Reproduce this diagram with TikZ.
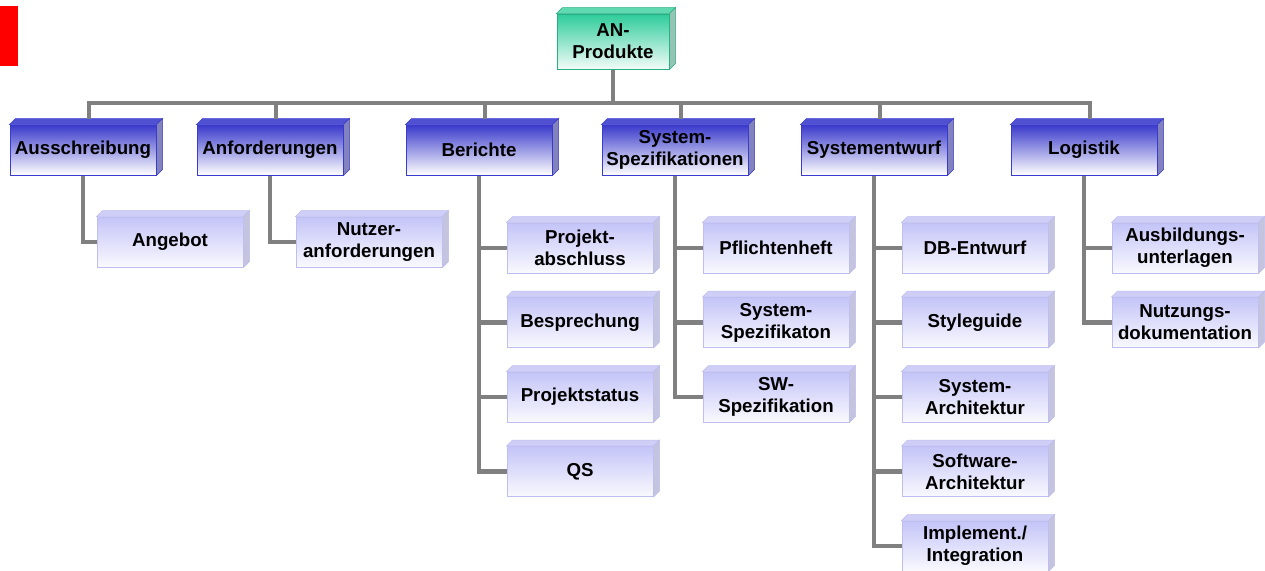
\documentclass[tikz,border=0pt]{standalone}
\usepackage{fontspec}
\setmainfont{Liberation Sans}
\usepackage{tikz}
\usetikzlibrary{positioning}
\usepackage{xcolor}

\definecolor{linegray}{RGB}{128,128,128}
\definecolor{mainblue}{RGB}{58,58,204}
\definecolor{maintopface}{RGB}{80,80,210}
\definecolor{mainsideface}{RGB}{130,130,190}
\definecolor{subblue}{RGB}{196,196,248}
\definecolor{subedge}{RGB}{190,190,240}
\definecolor{subtopface}{RGB}{206,206,246}
\definecolor{subsideface}{RGB}{196,196,222}
\definecolor{rootgreen}{RGB}{46,204,154}
\definecolor{rootedge}{RGB}{40,176,132}
\definecolor{roottopface}{RGB}{96,216,176}
\definecolor{rootsideface}{RGB}{150,196,180}

\begin{document}
\begin{tikzpicture}[x=1pt, y=-1pt,
    box/.style={rectangle, line width=1pt, minimum width=146pt, minimum height=50pt, inner sep=0pt, align=center, font=\bfseries\fontsize{18.7}{22}\selectfont},
    depth/.style n args={3}{append after command={\pgfextra{
        \filldraw[fill=#1, draw=#3, line width=0.5pt] (\tikzlastnode.north west) -- ++(6,-6) -- ([shift={(6,-6)}]\tikzlastnode.north east) -- (\tikzlastnode.north east) -- cycle;
        \filldraw[fill=#2, draw=#3, line width=0.5pt] (\tikzlastnode.north east) -- ++(6,-6) -- ([shift={(6,-6)}]\tikzlastnode.south east) -- (\tikzlastnode.south east) -- cycle;
    }}},
    root/.style={box, minimum width=112pt, minimum height=55pt, draw=rootedge, top color=rootgreen, bottom color=rootgreen!6, depth={roottopface}{rootsideface}{rootedge}},
    main/.style={box, draw=mainblue, top color=mainblue, bottom color=white, depth={maintopface}{mainsideface}{mainblue}},
    sub/.style={box, draw=subedge, top color=subblue, bottom color=subblue!10, depth={subtopface}{subsideface}{subedge}},
    link/.style={draw=linegray, line width=4.5pt}
]
\useasboundingbox (0,0) rectangle (1265,570);

% 红色标记
\fill[red] (0,6) rectangle (18,66);

% 根节点
\node[root] (an) at (613,41.5) {AN-\\Produkte};

% 第一层
\node[main] (aus) at (83,150) {Ausschreibung};
\node[main] (anf) at (270,150) {Anforderungen};
\node[main] (ber) at (479,150) {Berichte};
\node[main] (spez) at (675,150) {System-\\Spezifikationen};
\node[main] (entw) at (874,150) {Systementwurf};
\node[main] (log) at (1084,150) {Logistik};

% 第二层
\node[sub] (angebot) at (170,242) {Angebot};
\node[sub] (nutzer) at (369,242) {Nutzer-\\anforderungen};
\node[sub] (abschluss) at (580,248) {Projekt-\\abschluss};
\node[sub] (bespr) at (580,322.5) {Besprechung};
\node[sub] (status) at (580,397) {Projektstatus};
\node[sub] (qs) at (580,471.5) {QS};
\node[sub] (pflicht) at (776,248) {Pflichtenheft};
\node[sub] (sysspez) at (776,322.5) {System-\\Spezifikaton};
\node[sub] (swspez) at (776,397) {SW-\\Spezifikation};
\node[sub] (db) at (975,248) {DB-Entwurf};
\node[sub] (style) at (975,322.5) {Styleguide};
\node[sub] (sysarch) at (975,397) {System-\\Architektur};
\node[sub] (swarch) at (975,471.5) {Software-\\Architektur};
\node[sub] (impl) at (975,546) {Implement./\\Integration};
\node[sub] (ausb) at (1185,248) {Ausbildungs-\\unterlagen};
\node[sub] (nutzung) at (1185,322.5) {Nutzungs-\\dokumentation};

% 连线：根节点到第一层
\coordinate (bar) at (613,103);
\draw[link] (an.south) -- (bar);
\draw[link] (bar) -| ([shift={(6,-6)}]aus.north);
\draw[link] (bar) -| ([shift={(6,-6)}]anf.north);
\draw[link] (bar) -| ([shift={(6,-6)}]ber.north);
\draw[link] (bar) -| ([shift={(6,-6)}]spez.north);
\draw[link] (bar) -| ([shift={(6,-6)}]entw.north);
\draw[link] (bar) -| ([shift={(6,-6)}]log.north);

% 连线：第一层到第二层
\draw[link] (aus.south) |- (angebot.west);
\draw[link] (anf.south) |- (nutzer.west);
\draw[link] (ber.south) |- (abschluss.west);
\draw[link] (ber.south) |- (bespr.west);
\draw[link] (ber.south) |- (status.west);
\draw[link] (ber.south) |- (qs.west);
\draw[link] (spez.south) |- (pflicht.west);
\draw[link] (spez.south) |- (sysspez.west);
\draw[link] (spez.south) |- (swspez.west);
\draw[link] (entw.south) |- (db.west);
\draw[link] (entw.south) |- (style.west);
\draw[link] (entw.south) |- (sysarch.west);
\draw[link] (entw.south) |- (swarch.west);
\draw[link] (entw.south) |- (impl.west);
\draw[link] (log.south) |- (ausb.west);
\draw[link] (log.south) |- (nutzung.west);
\end{tikzpicture}
\end{document}
